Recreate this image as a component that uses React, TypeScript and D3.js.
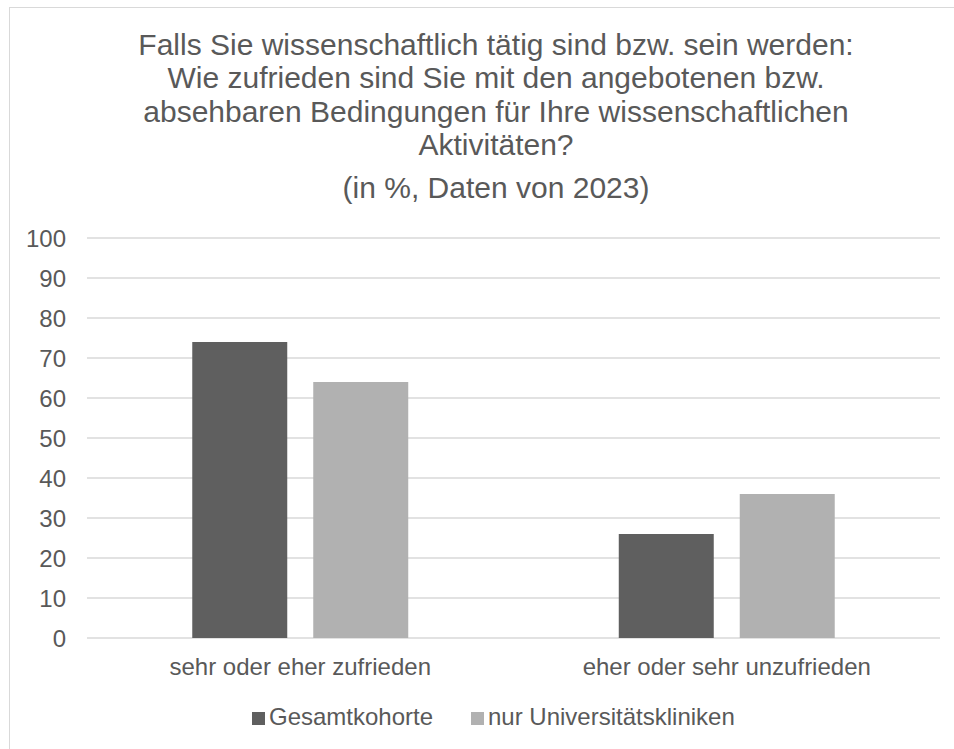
import React from "react";
import * as d3 from "d3";

const categories = ["sehr oder eher zufrieden", "eher oder sehr unzufrieden"];
const seriesNames = ["Gesamtkohorte", "nur Universitätskliniken"];
const gesamtkohorte = [74, 26];
const universitaetskliniken = [64, 36];
const yTicks = [0, 10, 20, 30, 40, 50, 60, 70, 80, 90, 100];
const titleLines = [
  "Falls Sie wissenschaftlich tätig sind bzw. sein werden:",
  "Wie zufrieden sind Sie mit den angebotenen bzw.",
  "absehbaren Bedingungen für Ihre wissenschaftlichen",
  "Aktivitäten?",
];
const subtitle = "(in %, Daten von 2023)";
const colors = ["#5f5f5f", "#b1b1b1"];

export default function App() {
  const W = 954, H = 749;
  const left = 87, right = 940, top = 238, bottom = 638;
  const font = "'Liberation Sans', Arial, sans-serif";
  const textColor = "#595959";
  const y = d3.scaleLinear().domain([0, 100]).range([bottom, top]);
  const x0 = d3.scaleBand<string>().domain(categories).range([left, right]).paddingInner(0).paddingOuter(0);
  const x1 = d3.scaleBand<string>().domain(seriesNames).range([0, x0.bandwidth()]).paddingInner(0.2149).paddingOuter(0.87);
  const values = [gesamtkohorte, universitaetskliniken];
  const cx = 496;
  return (
    <svg width={W} height={H} style={{ position: "absolute", left: 0, top: 0 }}>
      <rect x={0} y={0} width={W} height={H} fill="#fff" />
      <rect x={9.5} y={7.5} width={W + 20} height={H + 20} fill="none" stroke="#d9d9d9" strokeWidth={1} />
      {titleLines.map((t, i) => (
        <text key={i} x={cx} y={55 + i * 33.3} textAnchor="middle" fontFamily={font} fontSize={30} fill={textColor}>{t}</text>
      ))}
      <text x={cx} y={198} textAnchor="middle" fontFamily={font} fontSize={30} fill={textColor}>{subtitle}</text>
      {yTicks.map((t) => (
        <g key={t}>
          <line x1={left} x2={right} y1={y(t)} y2={y(t)} stroke="#d9d9d9" strokeWidth={1.5} />
          <text x={66} y={y(t)} dy="0.36em" textAnchor="end" fontFamily={font} fontSize={24} fill={textColor}>{t}</text>
        </g>
      ))}
      {categories.map((c, ci) => (
        <g key={c}>
          {seriesNames.map((s, si) => (
            <rect key={s} x={(x0(c) ?? 0) + (x1(s) ?? 0)} y={y(values[si][ci])} width={x1.bandwidth()} height={bottom - y(values[si][ci])} fill={colors[si]} />
          ))}
          <text x={(x0(c) ?? 0) + x0.bandwidth() / 2} y={675} textAnchor="middle" fontFamily={font} fontSize={24} fill={textColor}>{c}</text>
        </g>
      ))}
      {seriesNames.map((s, si) => {
        const lx = si === 0 ? 252 : 471;
        return (
          <g key={s}>
            <rect x={lx} y={712} width={13} height={13} fill={colors[si]} />
            <text x={lx + 17} y={725} fontFamily={font} fontSize={24} fill={textColor}>{s}</text>
          </g>
        );
      })}
    </svg>
  );
}
